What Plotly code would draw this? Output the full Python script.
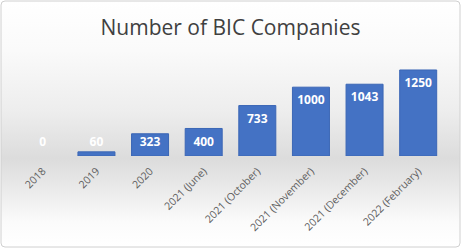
import numpy as np
import plotly.graph_objects as go
import urllib.parse

categories = ["2018", "2019", "2020", "2021 (June)", "2021 (October)",
              "2021 (November)", "2021 (December)", "2022 (February)"]
values = [0, 60, 323, 400, 733, 1000, 1043, 1250]
title_text = "Number of BIC Companies"

W, H = 461, 248
ML, MR, MT, MB = 16, 16, 60, 92
pw, ph = W - ML - MR, H - MT - MB

svg = (
    "<svg xmlns='http://www.w3.org/2000/svg' width='461' height='248' preserveAspectRatio='none' viewBox='0 0 461 248'>"
    "<defs><linearGradient id='g' x1='0' y1='0' x2='0' y2='1'>"
    "<stop offset='0' stop-color='#ffffff'/>"
    "<stop offset='0.2' stop-color='#fafafa'/>"
    "<stop offset='0.45' stop-color='#ededed'/>"
    "<stop offset='0.64' stop-color='#dcdcdc'/>"
    "<stop offset='0.73' stop-color='#e6e6e6'/>"
    "<stop offset='0.9' stop-color='#fbfbfb'/>"
    "<stop offset='1' stop-color='#ffffff'/>"
    "</linearGradient></defs>"
    "<rect x='1' y='1' width='459' height='246' rx='4' ry='4' fill='url(#g)' stroke='#d0d0d0' stroke-width='1'/>"
    "</svg>"
)
src = "data:image/svg+xml;charset=utf-8," + urllib.parse.quote(svg)

vals = np.array(values, dtype=float)
label_y = np.maximum(vals - 205.0, 190.0)

fig = go.Figure()
fig.add_trace(go.Bar(
    x=categories, y=values,
    marker=dict(color="#4472c4", line=dict(color="#3b66b5", width=[0 if v == 0 else 1 for v in values])),
    width=0.69, hoverinfo="skip",
))
fig.add_trace(go.Scatter(
    x=categories, y=label_y, mode="text",
    text=[str(v) for v in values], textposition="middle center",
    textfont=dict(family="Open Sans", size=12, color="white", weight="bold"),
    hoverinfo="skip",
))

fig.update_layout(
    width=W, height=H,
    margin=dict(l=ML, r=MR, t=MT, b=MB),
    paper_bgcolor="white", plot_bgcolor="rgba(0,0,0,0)",
    showlegend=False,
    title=dict(text=title_text, x=0.5, xanchor="center", y=1 - 28 / H, yanchor="middle",
               font=dict(family="Open Sans", size=21, color="#404040")),
    images=[dict(source=src, xref="paper", yref="paper",
                 x=-ML / pw, y=1 + MT / ph, sizex=W / pw, sizey=H / ph,
                 xanchor="left", yanchor="top", sizing="stretch", layer="below")],
    xaxis=dict(showgrid=False, showline=False, zeroline=False, ticks="",
               tickangle=-45, ticklabelstandoff=6, automargin=False,
               tickfont=dict(family="Open Sans", size=10.5, color="#5f5f5f")),
    yaxis=dict(visible=False, range=[0, 1395], fixedrange=True, automargin=False),
)

fig.write_html("out.html")
